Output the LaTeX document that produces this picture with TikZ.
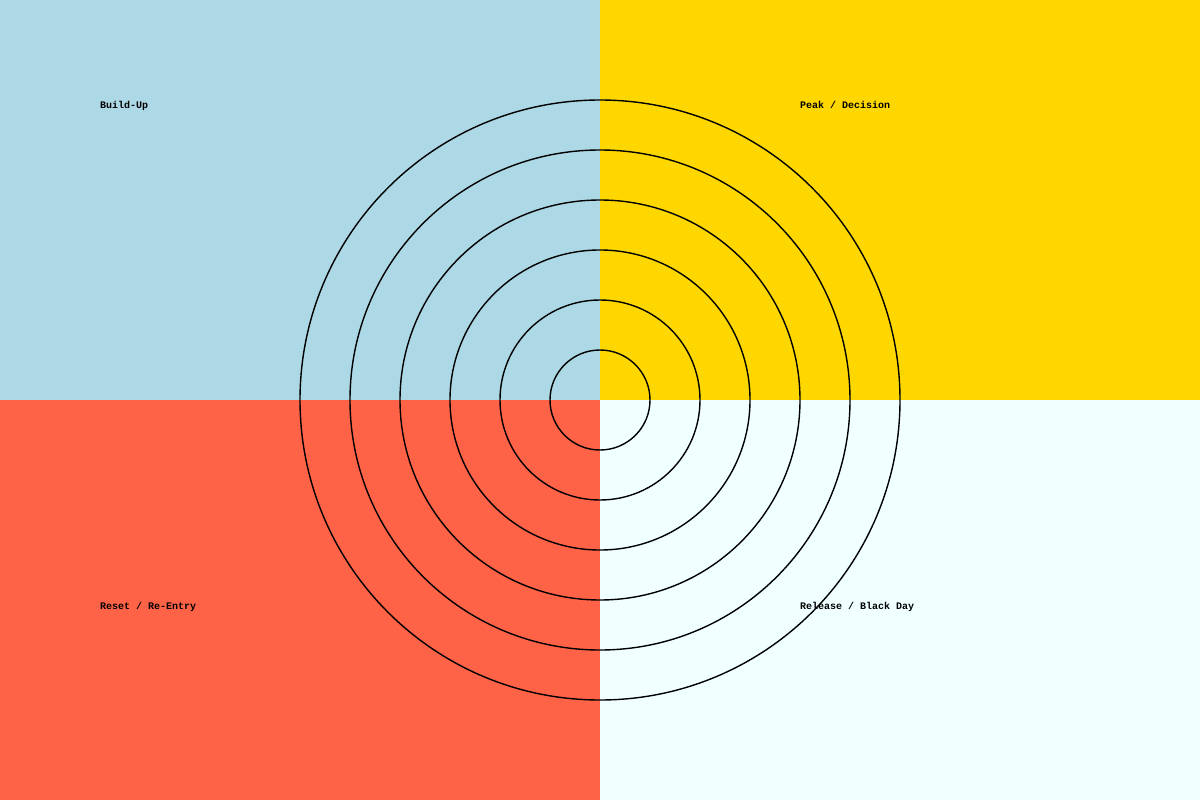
\documentclass[tikz,border=0pt]{standalone}
\usepackage{fontspec}
\setmonofont{Liberation Mono}
\definecolor{qblue}{HTML}{ADD8E6}
\definecolor{qgold}{HTML}{FFD700}
\definecolor{qtomato}{HTML}{FF6347}
\definecolor{qazure}{HTML}{F0FFFF}
\begin{document}
\begin{tikzpicture}[x=1pt,y=-1pt,
  lbl/.style={anchor=base west,inner sep=0pt,font=\ttfamily\bfseries\fontsize{10}{12}\selectfont},
  ring/.style={draw=black,line width=1.4pt}]
\useasboundingbox (0,0) rectangle (1200,800);
\fill[qblue] (0,0) rectangle (600,400);
\fill[qgold] (600,0) rectangle (1200,400);
\fill[qtomato] (0,400) rectangle (600,800);
\fill[qazure] (600,400) rectangle (1200,800);
\coordinate (c) at (600,400);
\foreach \r in {50,100,150,200,250,300}{
  \draw[ring] (c) circle[radius=\r];
}
\node[lbl] (bu) at (100,109) {Build-Up};
\node[lbl] (pd) at (800,109) {Peak / Decision};
\node[lbl] (rr) at (100,609) {Reset / Re-Entry};
\node[lbl] (rb) at (800,609) {Release / Black Day};
\end{tikzpicture}
\end{document}
